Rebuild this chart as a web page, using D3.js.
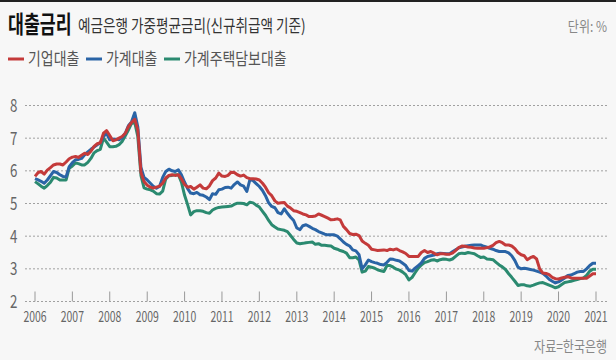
<!DOCTYPE html>
<html><head><meta charset="utf-8">
<script src="https://cdn.jsdelivr.net/npm/d3@7/dist/d3.min.js"></script>
<style>
html,body{margin:0;padding:0;background:#f7f7f7;}
svg{display:block;}
text{font-family:"Noto Sans CJK KR","Noto Sans",sans-serif;}
</style></head>
<body>
<svg id="chart" width="616" height="360"></svg>
<script>
const startYear = 2006;
const years = ["2006","2007","2008","2009","2010","2011","2012","2013","2014","2015","2016","2017","2018","2019","2020","2021"];
const yTicks = [2,3,4,5,6,7,8];
const seriesNames = ["기업대출","가계대출","가계주택담보대출"];
const seriesColors = ["#c43a3a","#2a64a6","#2b8a70"];

// monthly, Jan 2006 .. Jan 2021
const corporate = [
5.83,5.95,5.98,5.90,6.02,6.10,6.18,6.21,6.21,6.18,6.27,6.37,
6.42,6.44,6.41,6.48,6.54,6.50,6.60,6.75,6.83,6.86,7.15,7.23,
7.08,6.92,6.95,7.00,7.05,7.15,7.35,7.48,7.58,7.25,5.95,5.67,
5.56,5.50,5.47,5.50,5.53,5.62,5.78,5.86,5.88,5.86,5.88,5.75,
5.58,5.50,5.52,5.44,5.50,5.57,5.47,5.45,5.54,5.70,5.78,5.93,
5.84,5.83,5.86,5.96,5.95,5.88,5.84,5.87,5.79,5.76,5.76,5.75,
5.72,5.62,5.50,5.33,5.24,5.08,5.01,5.02,5.03,4.92,4.86,4.78,
4.76,4.72,4.68,4.65,4.60,4.60,4.62,4.68,4.64,4.60,4.55,4.50,
4.51,4.53,4.50,4.30,4.20,4.08,4.05,4.06,4.02,3.85,3.78,3.72,
3.60,3.58,3.56,3.57,3.58,3.56,3.60,3.58,3.61,3.56,3.52,3.47,
3.38,3.38,3.38,3.38,3.50,3.56,3.50,3.53,3.48,3.43,3.46,3.46,
3.45,3.45,3.48,3.56,3.65,3.70,3.69,3.67,3.66,3.64,3.63,3.63,
3.63,3.65,3.67,3.72,3.80,3.84,3.80,3.73,3.73,3.70,3.62,3.50,
3.43,3.40,3.28,3.34,3.38,3.30,3.00,2.87,2.86,2.82,2.74,2.70,
2.69,2.72,2.74,2.76,2.72,2.71,2.71,2.71,2.71,2.71,2.78,2.85,
2.85];
const household = [
5.76,5.72,5.68,5.62,5.72,5.85,5.98,5.95,5.88,5.83,5.82,6.13,
6.25,6.34,6.35,6.38,6.49,6.58,6.66,6.73,6.80,6.86,7.05,7.15,
6.95,6.97,6.97,6.95,7.02,7.15,7.38,7.50,7.78,7.35,6.10,5.80,
5.72,5.62,5.53,5.47,5.52,5.80,5.98,6.05,6.00,5.98,6.03,5.88,
5.65,5.45,5.32,5.30,5.34,5.27,5.25,5.20,5.12,5.30,5.28,5.42,
5.44,5.49,5.50,5.47,5.58,5.66,5.57,5.53,5.37,5.73,5.70,5.61,
5.52,5.40,5.24,5.02,4.91,4.87,4.72,4.68,4.84,4.70,4.58,4.48,
4.25,4.20,4.32,4.35,4.30,4.24,4.20,4.14,4.10,4.06,4.04,4.04,
4.04,4.00,3.92,3.82,3.75,3.70,3.58,3.55,3.43,3.00,3.12,3.27,
3.22,3.19,3.17,3.13,3.12,3.20,3.30,3.29,3.26,3.24,3.17,3.10,
2.95,2.93,3.02,3.10,3.18,3.32,3.38,3.40,3.42,3.46,3.48,3.47,
3.46,3.46,3.52,3.58,3.64,3.67,3.69,3.71,3.72,3.73,3.73,3.73,
3.69,3.66,3.63,3.60,3.56,3.53,3.53,3.53,3.49,3.40,3.25,3.05,
3.00,3.02,3.00,2.98,2.96,2.93,2.90,2.86,2.78,2.68,2.62,2.57,
2.60,2.66,2.72,2.80,2.81,2.85,2.90,2.92,2.92,3.00,3.10,3.17,
3.17];
const mortgage = [
5.67,5.60,5.53,5.47,5.55,5.65,5.80,5.78,5.72,5.72,5.72,6.08,
6.15,6.24,6.22,6.18,6.18,6.26,6.38,6.55,6.62,6.66,7.00,6.88,
6.74,6.74,6.75,6.80,6.90,7.07,7.25,7.45,7.48,7.05,5.85,5.48,
5.44,5.42,5.38,5.30,5.29,5.38,5.75,5.85,5.86,5.88,5.88,5.65,
5.25,4.95,4.65,4.75,4.78,4.78,4.76,4.72,4.70,4.80,4.85,4.88,
4.89,4.90,4.91,4.92,4.97,5.01,5.01,5.00,4.96,5.04,5.02,4.95,
4.89,4.76,4.64,4.48,4.35,4.28,4.22,4.20,4.18,4.14,4.02,3.90,
3.79,3.77,3.78,3.80,3.81,3.82,3.75,3.77,3.72,3.72,3.71,3.70,
3.63,3.60,3.56,3.53,3.48,3.34,3.34,3.36,3.27,2.90,2.93,3.07,
3.05,3.02,2.97,2.94,2.92,3.10,3.10,3.05,2.99,2.96,2.90,2.82,
2.66,2.74,2.88,3.02,3.12,3.19,3.22,3.26,3.28,3.24,3.28,3.30,
3.29,3.27,3.30,3.38,3.46,3.48,3.47,3.50,3.48,3.46,3.40,3.35,
3.36,3.30,3.29,3.28,3.20,3.12,3.06,2.98,2.85,2.74,2.62,2.49,
2.51,2.51,2.48,2.47,2.50,2.54,2.57,2.58,2.54,2.50,2.46,2.42,
2.45,2.52,2.58,2.60,2.62,2.65,2.67,2.70,2.72,2.80,2.93,2.99,
2.99];

const svg = d3.select("#chart");
const W = 616, H = 360;
svg.append("rect").attr("width",W).attr("height",H).attr("fill","#f7f7f7");
svg.append("rect").attr("x",0).attr("y",0).attr("width",W).attr("height",2).attr("fill","#222");

const x = d3.scaleTime().domain([new Date(2006,0,1), new Date(2021,0,1)]).range([35,596]);
const y = d3.scaleLinear().domain([2,8]).range([301.5,105.5]);

function ctext(g, str, px, py, opts){
  return g.append("text").attr("transform",`translate(${px},${py}) scale(${opts.sx||0.75},1)`)
    .attr("x",0).attr("y",0).text(str)
    .attr("font-size",opts.size).attr("fill",opts.fill)
    .attr("text-anchor",opts.anchor||"start")
    .attr("font-weight",opts.weight||"normal");
}

// title
ctext(svg,"대출금리",8,33,{size:24,fill:"#111",weight:"bold",sx:0.72});
ctext(svg,"예금은행 가중평균금리(신규취급액 기준)",78,32,{size:17,fill:"#333",sx:0.8});
ctext(svg,"단위: %",607,32,{size:15,fill:"#888",anchor:"end",sx:0.8});

// legend
const lg = svg.append("g");
const legendX = [8,86,164];
seriesNames.forEach((n,i)=>{
  lg.append("line").attr("x1",legendX[i]).attr("x2",legendX[i]+16).attr("y1",59).attr("y2",59)
    .attr("stroke",seriesColors[i]).attr("stroke-width",3);
  ctext(lg,n,legendX[i]+20,65,{size:17,fill:"#555",sx:0.82});
});

// grid
const grid = svg.append("g");
yTicks.forEach(v=>{
  grid.append("line").attr("x1",25).attr("x2",607).attr("y1",y(v)).attr("y2",y(v))
    .attr("stroke","#a0a0a0").attr("stroke-width",1).attr("stroke-dasharray","2,2");
  ctext(grid,String(v),17.5,y(v)+6.5,{size:18,fill:"#666",anchor:"end",sx:0.74});
});
// x axis ticks and labels
years.forEach(yr=>{
  const px = x(new Date(+yr,0,1));
  grid.append("line").attr("x1",px).attr("x2",px).attr("y1",291.5).attr("y2",301.5)
    .attr("stroke","#999").attr("stroke-width",1);
  ctext(grid,yr,px,322,{size:14.5,fill:"#666",anchor:"middle",sx:0.72});
});

// lines
const seriesData = [corporate, household, mortgage];
const line = d3.line().x((d,i)=>x(new Date(startYear,i,1))).y(d=>y(d));
[2,1,0].forEach(k=>{
  svg.append("path").datum(seriesData[k]).attr("d",line)
    .attr("fill","none").attr("stroke",seriesColors[k]).attr("stroke-width",3)
    .attr("stroke-linejoin","round");
});

// source
ctext(svg,"자료=한국은행",607,352,{size:15,fill:"#888",anchor:"end",sx:0.8});
</script>
</body></html>
